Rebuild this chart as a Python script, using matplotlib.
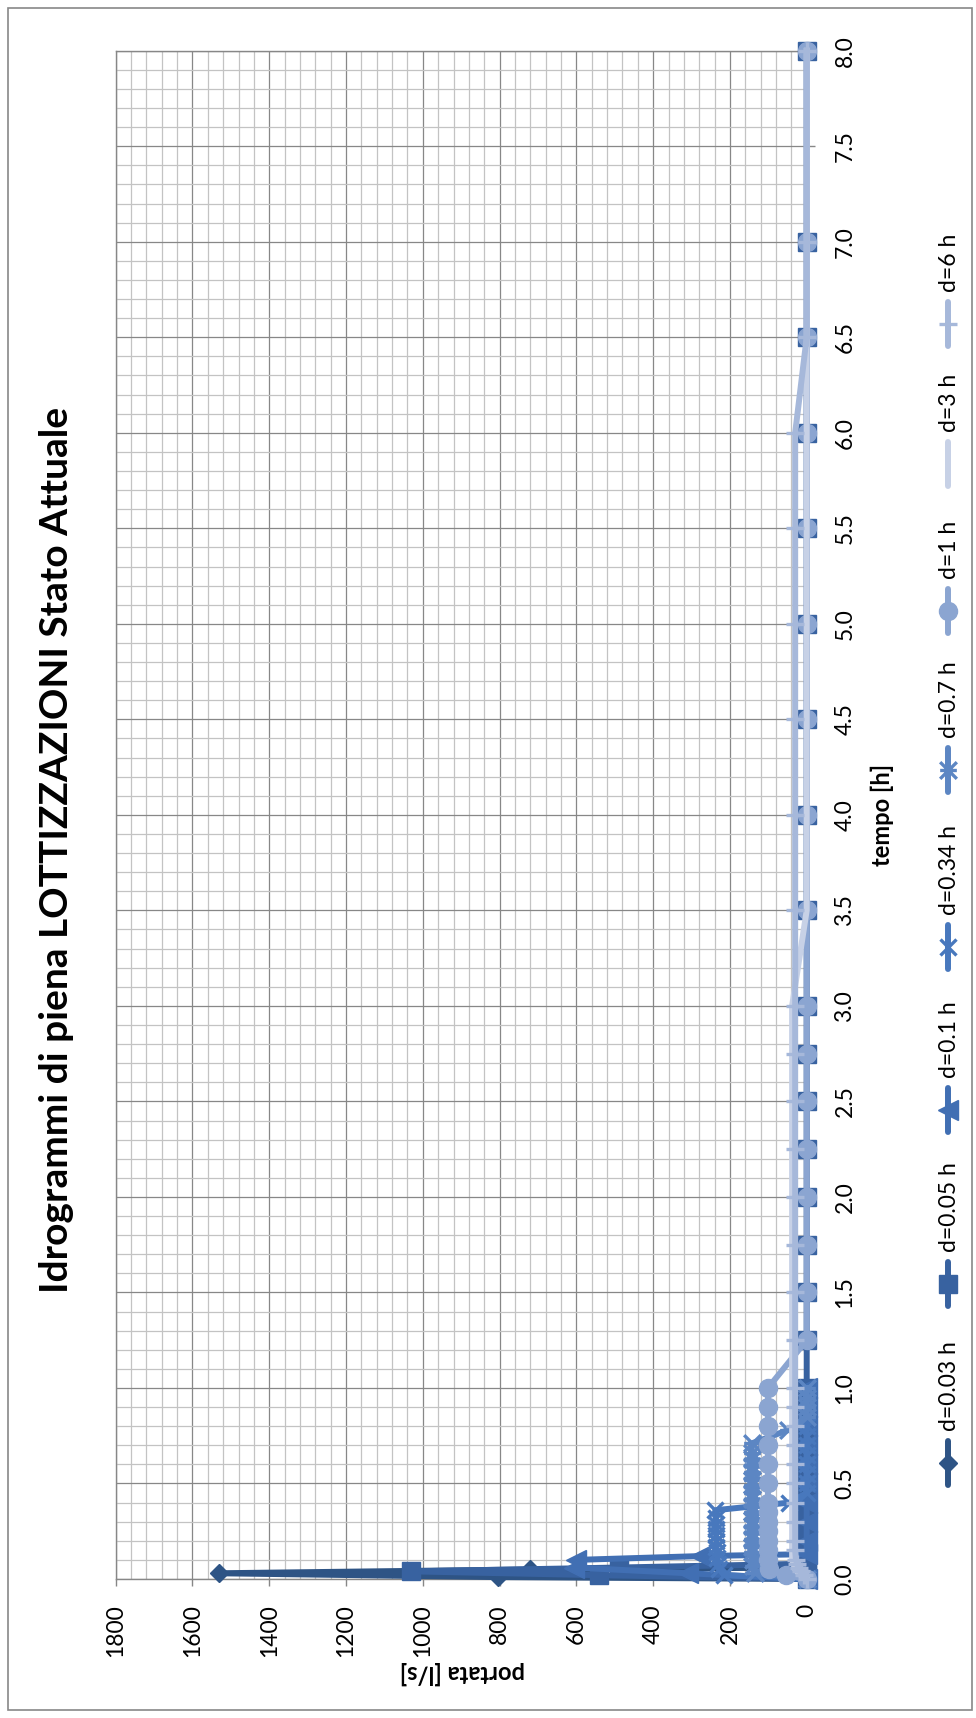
import matplotlib
matplotlib.use('Agg')
import matplotlib.pyplot as plt
from matplotlib.lines import Line2D
from matplotlib.patches import Rectangle
from matplotlib.path import Path
from matplotlib.ticker import MultipleLocator, FormatStrFormatter

plt.rcParams['font.family'] = ['Lato', 'DejaVu Sans']

title = 'Idrogrammi di piena LOTTIZZAZIONI Stato Attuale'
xlab = 'portata [l/s]'
ylab = 'tempo [h]'
labels = ['d=0.03 h', 'd=0.05 h', 'd=0.1 h', 'd=0.34 h', 'd=0.7 h', 'd=1 h', 'd=3 h', 'd=6 h']

# tempo [h] / portata [l/s] for each rain duration
t_003 = [0, 0.01, 0.03, 0.05, 0.06, 0.1, 0.15, 0.2, 0.25, 0.3, 0.35, 0.4, 0.45, 0.5,
         0.55, 0.6, 0.65, 0.7, 0.75, 0.8, 0.85, 0.9, 0.95, 1.0]
q_003 = [0, 805, 1530, 720, 0, 0, 0, 0, 0, 0, 0, 0, 0, 0,
         0, 0, 0, 0, 0, 0, 0, 0, 0, 0]

t_005 = [0, 0.02, 0.04, 0.06, 0.08, 0.1, 0.15, 0.2, 0.25, 0.3, 0.35, 0.4, 0.45, 0.5,
         0.55, 0.6, 0.65, 0.7, 0.75, 0.8, 0.85, 0.9, 0.95, 1.0,
         1.25, 1.5, 1.75, 2.0, 2.25, 2.5, 2.75, 3.0, 3.5, 4.0, 4.5, 5.0, 5.5, 6.0, 6.5, 7.0, 8.0]
q_005 = [0, 540, 1030, 490, 0, 0, 0, 0, 0, 0, 0, 0, 0, 0,
         0, 0, 0, 0, 0, 0, 0, 0, 0, 0,
         0, 0, 0, 0, 0, 0, 0, 0, 0, 0, 0, 0, 0, 0, 0, 0, 0]

t_01 = [0, 0.03, 0.06, 0.1, 0.12, 0.13, 0.2, 0.3, 0.4, 0.5, 0.6, 0.7, 0.8, 0.9, 1.0]
q_01 = [0, 310, 605, 600, 277, 0, 0, 0, 0, 0, 0, 0, 0, 0, 0]

t_034 = [0, 0.02, 0.05, 0.08, 0.11, 0.14, 0.17, 0.2, 0.23, 0.26, 0.29, 0.32, 0.36, 0.4,
         0.45, 0.5, 0.55, 0.6, 0.65, 0.7, 0.75, 0.8, 0.85, 0.9, 0.95, 1.0]
q_034 = [0, 215, 228, 232, 233, 234, 235, 235, 236, 236, 237, 237, 238, 45,
         0, 0, 0, 0, 0, 0, 0, 0, 0, 0, 0, 0]

t_07 = [0, 0.03, 0.07, 0.1, 0.14, 0.17, 0.21, 0.24, 0.28, 0.31, 0.35, 0.38, 0.42, 0.45,
        0.49, 0.52, 0.56, 0.59, 0.63, 0.66, 0.71, 0.78, 0.85, 0.9, 0.95, 1.0]
q_07 = [0, 135, 140, 141, 142, 142, 143, 143, 143, 143, 143, 143, 143, 143,
        143, 143, 143, 143, 143, 143, 143, 48, 0, 0, 0, 0]

t_1 = [0, 0.02, 0.05, 0.1, 0.15, 0.2, 0.25, 0.3, 0.35, 0.4, 0.5, 0.6, 0.7, 0.8, 0.9, 1.0,
       1.25, 1.5, 1.75, 2.0, 2.25, 2.5, 2.75, 3.0, 3.5, 4.0, 4.5, 5.0, 5.5, 6.0, 6.5, 7.0, 8.0]
q_1 = [0, 54, 98, 100, 101, 101, 101, 101, 101, 101, 101, 101, 101, 101, 101, 101,
       0, 0, 0, 0, 0, 0, 0, 0, 0, 0, 0, 0, 0, 0, 0, 0, 0]

t_3 = [0, 0.02, 0.05, 0.1, 0.2, 0.5, 1.0, 1.5, 2.0, 2.5, 3.0, 3.5, 4.0, 5.0, 6.0, 7.0, 8.0]
q_3 = [0, 15, 30, 38, 38, 38, 38, 38, 38, 38, 38, 0, 0, 0, 0, 0, 0]

t_6 = [0, 0.02, 0.04, 0.06, 0.08, 0.1, 0.15, 0.2, 0.3, 0.4, 0.5, 0.6, 0.7, 0.8, 0.9, 1.0,
       1.25, 1.5, 1.75, 2.0, 2.25, 2.5, 2.75, 3.0, 3.5, 4.0, 4.5, 5.0, 5.5, 6.0, 6.5, 7.0, 8.0]
q_6 = [0, 8, 15, 21, 25, 28, 30, 30, 30, 30, 30, 30, 30, 30, 30, 30,
       30, 30, 30, 30, 30, 30, 30, 30, 30, 30, 30, 30, 30, 30, 0, 0, 0]

times = [t_003, t_005, t_01, t_034, t_07, t_1, t_3, t_6]
flows = [q_003, q_005, q_01, q_034, q_07, q_1, q_3, q_6]

# excel "star" marker: an x with a bar
star = Path([(-1, -1), (1, 1), (-1, 1), (1, -1), (-1, 0), (1, 0)],
            [Path.MOVETO, Path.LINETO, Path.MOVETO, Path.LINETO, Path.MOVETO, Path.LINETO])

styles = [
    dict(color='#2E5485', marker='D', ms=9),
    dict(color='#3862A0', marker='s', ms=13),
    dict(color='#416FB3', marker='<', ms=15),
    dict(color='#4878BD', marker='x', ms=12, mew=2.4),
    dict(color='#5C86C3', marker=star, ms=12, mew=2.4, mfc='none'),
    dict(color='#8BA5D1', marker='o', ms=13),
    dict(color='#C7D1E6', marker='None'),
    dict(color='#A6B8DA', marker='+', ms=13, mew=2.4),
]
LW = 4.3

W, H = 976, 1718


def fx(px):
    return px / W


def fy(py):
    return 1 - py / H


fig = plt.figure(figsize=(W / 100, H / 100), dpi=100)
fig.add_artist(Rectangle((fx(8), fy(1710)), fx(972) - fx(8), fy(8) - fy(1710),
                         fill=False, edgecolor='#878787', lw=1.2))

ax = fig.add_axes([fx(115.7), fy(1579), fx(806.7) - fx(115.7), fy(50.7) - fy(1579)])

for i, (t, q, st) in enumerate(zip(times, flows, styles)):
    ax.plot(q, t, lw=LW, clip_on=False, zorder=3 + i, **st)

ax.set_xlim(1800, 0)
ax.set_ylim(0, 8)
ax.xaxis.set_major_locator(MultipleLocator(200))
ax.xaxis.set_minor_locator(MultipleLocator(40))
ax.yaxis.set_major_locator(MultipleLocator(0.5))
ax.yaxis.set_minor_locator(MultipleLocator(0.1))
ax.yaxis.set_major_formatter(FormatStrFormatter('%.1f'))
ax.set_axisbelow(True)
ax.grid(which='major', color='#878787', lw=0.9)
ax.grid(which='minor', color='#C3C3C3', lw=0.9)
for s in ax.spines.values():
    s.set_color('#878787')
    s.set_linewidth(1)

ax.yaxis.tick_right()
ax.tick_params(which='minor', length=0)
ax.tick_params(axis='x', which='major', direction='out', length=5, width=1, color='#878787',
               labelsize=16.5, labelrotation=90, pad=13)
ax.tick_params(axis='y', which='major', direction='out', length=6, width=1, color='#878787',
               labelsize=16.5, labelrotation=90, pad=14)
for lab in ax.get_yticklabels():
    lab.set_va('center')

fig.text(fx(57), fy(850), title, rotation=90, ha='center', va='center',
         fontsize=28, fontweight='bold')
fig.text(fx(882), fy(815), ylab, rotation=90, ha='center', va='center',
         fontsize=17, fontweight='bold')
fig.text(fx(462), fy(1673), xlab, rotation=180, ha='center', va='center',
         fontsize=17, fontweight='bold')

# legend, drawn by hand because it is rotated
leg_y = [1463, 1284, 1110, 947, 770, 611, 464, 324]
for lab, st, y in zip(labels, styles, leg_y):
    fig.add_artist(Line2D([fx(948), fx(948)], [fy(y + 22), fy(y - 22)],
                          color=st['color'], lw=LW, solid_capstyle='round'))
    mk = dict(st)
    mk.pop('color')
    fig.add_artist(Line2D([fx(948)], [fy(y)], color=st['color'], ls='none', **mk))
    fig.text(fx(950), fy(y - 32), lab, rotation=90, ha='center', va='bottom', fontsize=16.5)

fig.savefig('out.png', dpi=100)
